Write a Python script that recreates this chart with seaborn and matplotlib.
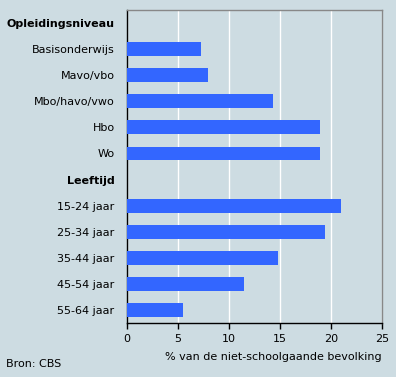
import pandas as pd
import numpy as np
import seaborn as sns
import matplotlib.pyplot as plt

headers = ["Opleidingsniveau", "Leeftijd"]
opleiding = ["Basisonderwijs", "Mavo/vbo", "Mbo/havo/vwo", "Hbo", "Wo"]
opleiding_vals = [7.25, 7.9, 14.3, 18.9, 18.9]
leeftijd = ["15-24 jaar", "25-34 jaar", "35-44 jaar", "45-54 jaar", "55-64 jaar"]
leeftijd_vals = [21.0, 19.4, 14.8, 11.5, 5.5]

labels = [headers[0]] + opleiding + [headers[1]] + leeftijd
values = [np.nan] + opleiding_vals + [np.nan] + leeftijd_vals
df = pd.DataFrame({"label": labels, "value": values})

bg = "#CDDCE2"
sns.set_style("white")
plt.rcParams['font.family'] = ['DejaVu Sans']
plt.rcParams['text.color'] = 'black'
plt.rcParams['xtick.color'] = 'black'
plt.rcParams['ytick.color'] = 'black'
plt.rcParams['axes.labelcolor'] = 'black'

fig = plt.figure(figsize=(3.96, 3.77), dpi=100, facecolor=bg)
ax = fig.add_axes([127/396, 54/377, 255/396, 313/377])
ax.set_facecolor(bg)

sns.barplot(data=df, x="value", y="label", order=labels, orient="h",
            color="#3366FF", saturation=1, width=0.53, ax=ax, zorder=3,
            edgecolor="none", linewidth=0)

ax.set_xlim(0, 25)
ax.set_ylim(11.5, -0.5)
ax.set_xticks([0, 5, 10, 15, 20, 25])
ax.xaxis.grid(True, color="white", linewidth=1, zorder=0)
ax.set_axisbelow(True)

for s in ["top", "right"]:
    ax.spines[s].set_color("#888888")
    ax.spines[s].set_linewidth(1)
for s in ["left", "bottom"]:
    ax.spines[s].set_color("black")
    ax.spines[s].set_linewidth(1)

ax.tick_params(axis="y", length=0, pad=9, labelsize=8)
ax.tick_params(axis="x", length=4, width=1, direction="out", color="black",
               labelsize=8, pad=4, bottom=True)
for t in ax.get_yticklabels():
    if t.get_text() in headers:
        t.set_fontweight("bold")

ax.set_ylabel("")
ax.set_xlabel("% van de niet-schoolgaande bevolking", fontsize=8,
              loc="right", labelpad=6)

fig.text(6/396, 1 - 364/377, "Bron: CBS", fontsize=8, va="center", ha="left")

plt.savefig("out.png", dpi=100, facecolor=bg)
plt.close()
